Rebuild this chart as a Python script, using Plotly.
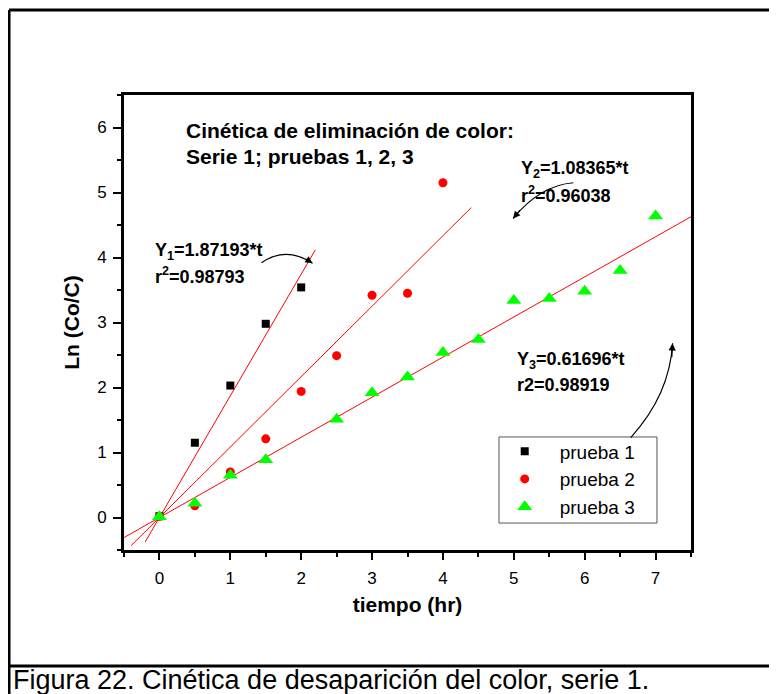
import plotly.graph_objects as go

# ---------------- data ----------------
t1 = [0, 0.5, 1, 1.5, 2]
y1 = [0.02, 1.15, 2.03, 2.98, 3.54]

t2 = [0, 0.5, 1, 1.5, 2, 2.5, 3, 3.5, 4]
y2 = [0.02, 0.18, 0.70, 1.21, 1.94, 2.49, 3.42, 3.45, 5.15]

t3 = [0, 0.5, 1, 1.5, 2.5, 3, 3.5, 4, 4.5, 5, 5.5, 6, 6.5, 7]
y3 = [0.01, 0.22, 0.65, 0.89, 1.51, 1.92, 2.16, 2.54, 2.74, 3.34, 3.37, 3.48, 3.80, 4.64]

series_names = ["prueba 1", "prueba 2", "prueba 3"]
slopes = [1.87193, 1.08365, 0.61696]
r2_values = ["0.98793", "0.96038", "0.98919"]
fit_ranges = [(-0.2, 2.2), (-0.4, 4.4), (-0.5, 7.5)]

x_ticks = [0, 1, 2, 3, 4, 5, 6, 7]
y_ticks = [0, 1, 2, 3, 4, 5, 6]

FONT = "Liberation Sans, Arial, sans-serif"

fig = go.Figure()

# fitted lines
for a, (t0, tend) in zip(slopes, fit_ranges):
    fig.add_trace(go.Scatter(x=[t0, tend], y=[a * t0, a * tend], mode="lines",
                             line=dict(color="#FF0000", width=1), showlegend=False,
                             hoverinfo="skip"))

fig.add_trace(go.Scatter(x=t1, y=y1, mode="markers", name=series_names[0],
                         marker=dict(symbol="square", size=8, color="black")))
fig.add_trace(go.Scatter(x=t2, y=y2, mode="markers", name=series_names[1],
                         marker=dict(symbol="circle", size=9, color="#FF0000")))
fig.add_trace(go.Scatter(x=t3, y=y3, mode="markers", name=series_names[2],
                         marker=dict(symbol="triangle-up", size=13, color="#00FF00")))

annots = []
# title text
annots.append(dict(x=0.34, y=5.95, xref="x", yref="y", text="<b>Cinética de eliminación de color:</b>",
                   showarrow=False, xanchor="left", yanchor="middle", font=dict(size=21, color="black", family=FONT)))
annots.append(dict(x=0.34, y=5.55, xref="x", yref="y", text="<b>Serie 1; pruebas 1, 2, 3</b>",
                   showarrow=False, xanchor="left", yanchor="middle", font=dict(size=21, color="black", family=FONT)))

eq_pos = [(-0.09, 4.10, 3.73), (5.08, 5.36, 4.97), (5.02, 2.41, 2.04)]
r_labels = ["r<sup>2</sup>", "r<sup>2</sup>", "r2"]
for k, (xp, ya, yb) in enumerate(eq_pos):
    annots.append(dict(x=xp, y=ya, xref="x", yref="y",
                       text=f"<b>Y<sub>{k+1}</sub>={slopes[k]:.5f}*t</b>",
                       showarrow=False, xanchor="left", yanchor="middle",
                       font=dict(size=18, color="black", family=FONT)))
    annots.append(dict(x=xp, y=yb, xref="x", yref="y",
                       text=f"<b>{r_labels[k]}={r2_values[k]}</b>",
                       showarrow=False, xanchor="left", yanchor="middle",
                       font=dict(size=18, color="black", family=FONT)))

# curved arrows (quadratic curves) + arrowheads
curves = [((1.44, 3.92), (1.79, 4.18), (2.16, 3.91)),
          ((5.84, 5.15), (5.37, 5.11), (4.99, 4.60)),
          ((6.65, 1.23), (7.20, 1.89), (7.24, 2.68))]
shapes = []
# legend frame
shapes.append(dict(type="rect", xref="paper", yref="paper", x0=0.6614, x1=0.940, y0=0.0593, y1=0.2484,
                   line=dict(color="#555555", width=1), fillcolor="white", layer="above"))
for (s, c, e) in curves:
    shapes.append(dict(type="path", xref="x", yref="y",
                       path=f"M {s[0]},{s[1]} Q {c[0]},{c[1]} {e[0]},{e[1]}",
                       line=dict(color="black", width=1.2)))
    tail = (e[0] + 0.3 * (c[0] - e[0]), e[1] + 0.3 * (c[1] - e[1]))
    annots.append(dict(x=e[0], y=e[1], ax=tail[0], ay=tail[1], xref="x", yref="y",
                       axref="x", ayref="y", text="", showarrow=True,
                       arrowhead=2, arrowsize=1.2, arrowwidth=1.2, arrowcolor="black", standoff=0))

# outer frame
FL, FT, FB = -0.2028, 1.1868, -0.2549
shapes.append(dict(type="line", xref="paper", yref="paper", x0=FL, x1=1.3, y0=FT, y1=FT,
                   line=dict(color="black", width=3)))
shapes.append(dict(type="line", xref="paper", yref="paper", x0=FL, x1=FL, y0=FT, y1=-0.35,
                   line=dict(color="black", width=3)))
shapes.append(dict(type="line", xref="paper", yref="paper", x0=FL, x1=1.3, y0=FB, y1=FB,
                   line=dict(color="black", width=3)))

# caption
annots.append(dict(x=-0.199, y=-0.2855, xref="paper", yref="paper",
                   text="Figura 22. Cinética de desaparición del color, serie 1.",
                   showarrow=False, xanchor="left", yanchor="middle",
                   font=dict(size=27, color="black", family=FONT)))

axis_common = dict(showline=True, linecolor="black", linewidth=3, mirror=True,
                   ticks="outside", tickwidth=2, tickcolor="black",
                   showgrid=False, zeroline=False,
                   tickfont=dict(size=17, color="black", family=FONT),
                   minor=dict(ticks="outside", ticklen=4, tickwidth=2, tickcolor="black", dtick=0.5))

fig.update_layout(
    width=769, height=686,
    margin=dict(l=116, r=86, t=87, b=144),
    paper_bgcolor="white", plot_bgcolor="white",
    xaxis=dict(range=[-0.5, 7.5], tickvals=x_ticks, ticklen=7, ticklabelstandoff=4,
               title=dict(text="<b>tiempo (hr)</b>", font=dict(size=21, color="black", family=FONT), standoff=10),
               **axis_common),
    yaxis=dict(range=[-0.5, 6.5], tickvals=y_ticks, ticklen=8, ticklabelstandoff=3,
               title=dict(text="<b>Ln (Co/C)</b>", font=dict(size=21, color="black", family=FONT), standoff=12),
               **axis_common),
    legend=dict(x=0.645, y=0.2585, xanchor="left", yanchor="top",
                bgcolor="rgba(0,0,0,0)", borderwidth=0,
                font=dict(size=19, color="black", family=FONT), itemwidth=60,
                tracegroupgap=0),
    annotations=annots,
    shapes=shapes,
    showlegend=True,
)

fig.write_html("out.html")
